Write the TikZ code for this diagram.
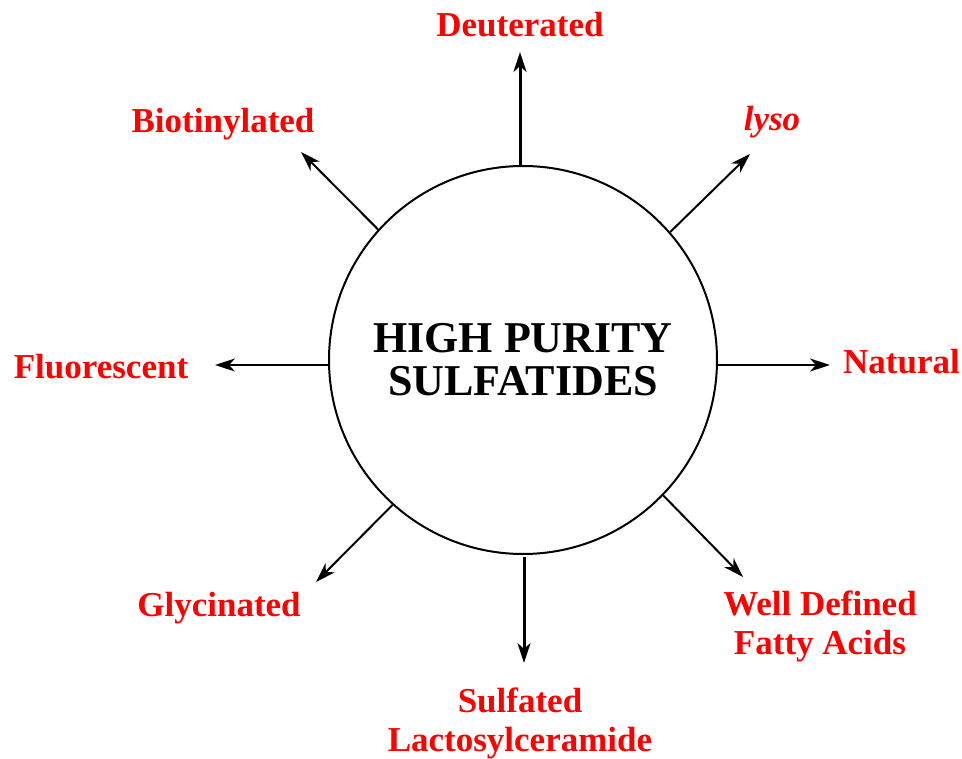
\documentclass[tikz,border=0pt]{standalone}
\usepackage{fontspec}
\setmainfont{Liberation Serif}
\usetikzlibrary{arrows.meta}
\definecolor{lblred}{RGB}{255,0,0}
\tikzset{
  lbl/.style={text=lblred, font=\fontsize{35}{39}\selectfont\bfseries, align=center, inner sep=0pt, anchor=base},
  arr/.style={-{Stealth[length=20pt,width=13pt,inset=6pt]}, line width=2pt},
  arrthick/.style={arr, line width=3pt}
}
\begin{document}
\begin{tikzpicture}[x=1pt,y=-1pt]
\useasboundingbox (0,0) rectangle (962,759);
\node[circle, draw, line width=2pt, minimum size=388pt, inner sep=0pt,
      font=\fontsize{44}{43}\selectfont\bfseries, align=center] (c) at (523,360)
      {HIGH PURITY\\SULFATIDES};
% labels (base = baseline of last line)
\node[lbl] (deut) at (520,37) {Deuterated};
\node[lbl] (biot) at (223,132.5) {Biotinylated};
\node[lbl] (lyso) at (772,131) {\itshape lyso};
\node[lbl] (fluo) at (101,379) {Fluorescent};
\node[lbl] (natu) at (901.5,374) {Natural};
\node[lbl] (glyc) at (219,616) {Glycinated};
\node[lbl] (well) at (820,654) {Well Defined\\Fatty Acids};
\node[lbl] (sulf) at (520,751) {Sulfated\\Lactosylceramide};
% arrow ends
\coordinate (tdeut) at (520,52);
\coordinate (tlyso) at (750,154);
\coordinate (tnatu) at (830,365);
\coordinate (twell) at (743,577);
\coordinate (tsulf) at (524,663);
\coordinate (tglyc) at (316,582);
\coordinate (tfluo) at (215,365);
\coordinate (tbiot) at (301,152);
% arrows
\draw[arrthick] (tdeut |- c.north) -- (tdeut);
\draw[arr] (c.41) -- (tlyso);
\draw[arr] (c.east |- tnatu) -- (tnatu);
\draw[arr] (c.-44.2) -- (twell);
\draw[arrthick] ([yshift=-2pt]tsulf |- c.south) -- (tsulf);
\draw[arr] (c.228.4) -- (tglyc);
\draw[arr] (c.west |- tfluo) -- (tfluo);
\draw[arr] (c.138.1) -- (tbiot);
\end{tikzpicture}
\end{document}
